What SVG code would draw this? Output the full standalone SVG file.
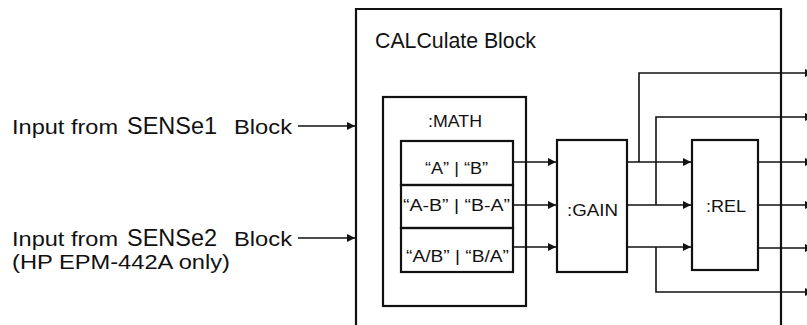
<svg xmlns="http://www.w3.org/2000/svg" width="807" height="325" viewBox="0 0 807 325">
<style>
  text { font-family: "Liberation Sans", Arial, sans-serif; fill: #111; }
  .box { fill: none; stroke: #111; stroke-width: 2.2; }
  .wire { fill: none; stroke: #111; stroke-width: 1.6; }
  .lbl { font-size: 21px; }
  .big { font-size: 23px; }
  .sm { font-size: 16px; }
</style>
<defs>
  <marker id="arr" viewBox="0 0 10 10" refX="10" refY="5" markerWidth="9" markerHeight="8" markerUnits="userSpaceOnUse" orient="auto">
    <path d="M0,0 L10,5 L0,10 Z" fill="#111"/>
  </marker>
</defs>
<rect width="807" height="325" fill="#fff"/>

<g id="inputs">
  <text class="lbl" x="12" y="134" textLength="106" lengthAdjust="spacingAndGlyphs">Input from</text>
  <text class="big" x="127" y="134" textLength="90" lengthAdjust="spacingAndGlyphs">SENSe1</text>
  <text class="lbl" x="234" y="134" textLength="58" lengthAdjust="spacingAndGlyphs">Block</text>
  <text class="lbl" x="12" y="246" textLength="106" lengthAdjust="spacingAndGlyphs">Input from</text>
  <text class="big" x="127" y="246" textLength="90" lengthAdjust="spacingAndGlyphs">SENSe2</text>
  <text class="lbl" x="234" y="246" textLength="58" lengthAdjust="spacingAndGlyphs">Block</text>
  <text class="lbl" x="12" y="269" textLength="218" lengthAdjust="spacingAndGlyphs">(HP EPM-442A only)</text>
</g>

<g id="calculate">
  <path class="box" d="M356,330 V9 H781 V330"/>
  <text x="375" y="48" font-size="22" textLength="161" lengthAdjust="spacingAndGlyphs">CALCulate Block</text>
</g>

<g id="math">
  <rect class="box" x="383" y="97" width="143" height="209"/>
  <text class="sm" x="428" y="127" textLength="54" lengthAdjust="spacingAndGlyphs">:MATH</text>
</g>
<g id="math-ab">
  <rect class="box" x="401" y="141" width="112" height="44"/>
  <text class="sm" x="425" y="174" textLength="63" lengthAdjust="spacingAndGlyphs">“A” | “B”</text>
</g>
<g id="math-diff">
  <rect class="box" x="401" y="185" width="112" height="43"/>
  <text class="sm" x="403" y="211" textLength="107" lengthAdjust="spacingAndGlyphs">“A-B” | “B-A”</text>
</g>
<g id="math-ratio">
  <rect class="box" x="401" y="228" width="112" height="44"/>
  <text class="sm" x="406" y="262" textLength="103" lengthAdjust="spacingAndGlyphs">“A/B” | “B/A”</text>
</g>

<g id="gain">
  <rect class="box" x="557" y="140" width="70" height="132"/>
  <text class="sm" x="567" y="216" textLength="51" lengthAdjust="spacingAndGlyphs">:GAIN</text>
</g>

<g id="rel">
  <rect class="box" x="692" y="140" width="66" height="130"/>
  <text class="sm" x="706" y="212" textLength="40" lengthAdjust="spacingAndGlyphs">:REL</text>
</g>

<g id="connectors">
  <line class="wire" x1="298" y1="126" x2="355" y2="126" marker-end="url(#arr)"/>
  <line class="wire" x1="298" y1="238" x2="355" y2="238" marker-end="url(#arr)"/>

  <line class="wire" x1="513" y1="162" x2="556" y2="162" marker-end="url(#arr)"/>
  <line class="wire" x1="513" y1="205" x2="556" y2="205" marker-end="url(#arr)"/>
  <line class="wire" x1="513" y1="247" x2="556" y2="247" marker-end="url(#arr)"/>

  <line class="wire" x1="627" y1="162" x2="691" y2="162" marker-end="url(#arr)"/>
  <line class="wire" x1="627" y1="205" x2="691" y2="205" marker-end="url(#arr)"/>
  <line class="wire" x1="627" y1="247" x2="691" y2="247" marker-end="url(#arr)"/>

  <path class="wire" d="M639,162 V73 H813" marker-end="url(#arr)"/>
  <path class="wire" d="M656,205 V117 H813" marker-end="url(#arr)"/>
  <path class="wire" d="M656,247 V292 H813" marker-end="url(#arr)"/>

  <line class="wire" x1="758" y1="162" x2="813" y2="162" marker-end="url(#arr)"/>
  <line class="wire" x1="758" y1="205" x2="813" y2="205" marker-end="url(#arr)"/>
  <line class="wire" x1="758" y1="248" x2="813" y2="248" marker-end="url(#arr)"/>
</g>
</svg>
